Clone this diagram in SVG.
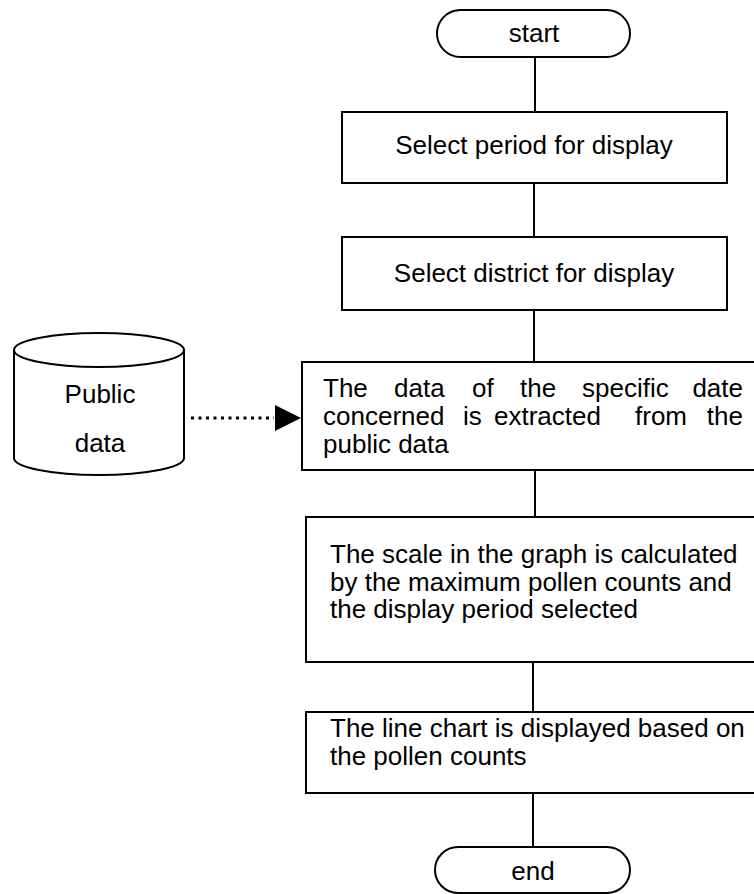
<svg xmlns="http://www.w3.org/2000/svg" width="754" height="894" viewBox="0 0 754 894">
  <style>
    .shape { fill: #ffffff; stroke: #000000; stroke-width: 2; }
    .line { fill: none; stroke: #000000; stroke-width: 2; }
    .dotted { fill: none; stroke: #000000; stroke-width: 3; stroke-dasharray: 3 4.5; }
    text { font-family: "Liberation Sans", Arial, sans-serif; font-size: 26px; fill: #000000; }
    .c { text-anchor: middle; }
    .r { text-anchor: end; }
  </style>
  <rect width="754" height="894" fill="#ffffff"/>

  <g id="connectors">
    <line class="line" x1="535" y1="57" x2="535" y2="112"/>
    <line class="line" x1="534" y1="183" x2="534" y2="237"/>
    <line class="line" x1="534" y1="310" x2="534" y2="362"/>
    <line class="line" x1="535" y1="470" x2="535" y2="517"/>
    <line class="line" x1="533" y1="662" x2="533" y2="712"/>
    <line class="line" x1="533" y1="793" x2="533" y2="847"/>
    <line class="dotted" x1="191" y1="418" x2="274" y2="418"/>
    <path d="M275,405 L301,418 L275,431 Z" fill="#000000"/>
  </g>

  <g id="start">
    <rect class="shape" x="437" y="10" width="193" height="47" rx="23.5" ry="23.5"/>
    <text class="c" x="534" y="42">start</text>
  </g>

  <g id="select-period">
    <rect class="shape" x="342" y="112" width="385" height="71"/>
    <text class="c" x="534" y="154">Select period for display</text>
  </g>

  <g id="select-district">
    <rect class="shape" x="342" y="237" width="385" height="73"/>
    <text class="c" x="534" y="282">Select district for display</text>
  </g>

  <g id="public-data">
    <path class="shape" d="M14,350 L14,458 A85,17 0 0 0 184,458 L184,350"/>
    <ellipse class="shape" cx="99" cy="350" rx="85" ry="17"/>
    <text class="c" x="100" y="403">Public</text>
    <text class="c" x="100" y="452">data</text>
  </g>

  <g id="extract">
    <path class="shape" d="M760,362 L302,362 L302,470 L760,470"/>
    <text y="397"><tspan x="323">The</tspan><tspan x="394">data</tspan><tspan x="472">of</tspan><tspan x="520">the</tspan><tspan x="582">specific</tspan></text>
    <text class="r" x="743" y="397">date</text>
    <text y="425"><tspan x="323">concerned</tspan><tspan x="463">is</tspan><tspan x="494">extracted</tspan><tspan x="635">from</tspan></text>
    <text class="r" x="743" y="425">the</text>
    <text x="323" y="453">public data</text>
  </g>

  <g id="scale">
    <path class="shape" d="M760,517 L306,517 L306,662 L760,662"/>
    <text x="330" y="563">The scale in the graph is calculated</text>
    <text x="330" y="591">by the maximum pollen counts and</text>
    <text x="330" y="618">the display period selected</text>
  </g>

  <g id="line-chart">
    <path class="shape" d="M760,712 L306,712 L306,793 L760,793"/>
    <text x="330" y="737">The line chart is displayed based on</text>
    <text x="330" y="765">the pollen counts</text>
  </g>

  <g id="end">
    <rect class="shape" x="435" y="847" width="195" height="46" rx="23" ry="23"/>
    <text class="c" x="533" y="880">end</text>
  </g>
</svg>
